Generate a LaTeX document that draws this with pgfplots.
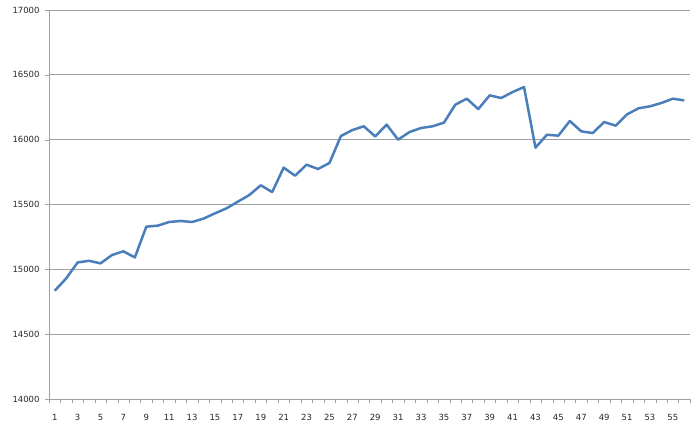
\documentclass[border=0pt]{standalone}
\usepackage{fontspec}
\setmainfont{DejaVu Sans}
\usepackage{pgfplots}
\pgfplotsset{compat=1.18}
\definecolor{lineblue}{RGB}{74,126,187}
\definecolor{gridgray}{RGB}{160,160,160}
\begin{document}
\begin{tikzpicture}
\begin{axis}[
  scale only axis,
  width=641bp, height=389bp,
  xmin=0.5, xmax=56.5,
  ymin=14000, ymax=17000,
  ytick={14000,14500,...,17000},
  xtick={1,3,...,55},
  minor xtick={0.5,1.5,...,56.5},
  scaled y ticks=false,
  axis x line*=bottom, axis y line*=left,
  axis line style={-, draw=gridgray},
  ymajorgrids, grid style={draw=gridgray, line width=0.7pt},
  tick align=outside,
  major x tick style={draw=none},
  minor x tick style={draw=gridgray},
  major y tick style={draw=gridgray},
  major tick length=4bp, minor tick length=4bp,
  tick label style={font=\fontsize{8.5}{10}\selectfont, text=black!85},
  /pgf/number format/assume math mode=true,
  yticklabel style={/pgf/number format/fixed, /pgf/number format/precision=0, /pgf/number format/set thousands separator={}, xshift=-2bp},
  xticklabel style={yshift=-8bp},
]
\addplot[lineblue, line width=2.5bp, line join=round] coordinates {
(1,14835) (2,14930) (3,15053) (4,15066) (5,15046) (6,15110) (7,15139) (8,15092)
(9,15329) (10,15337) (11,15365) (12,15373) (13,15365) (14,15391) (15,15432) (16,15470)
(17,15522) (18,15573) (19,15648) (20,15596) (21,15784) (22,15722) (23,15807) (24,15774)
(25,15820) (26,16028) (27,16074) (28,16103) (29,16025) (30,16116) (31,16000) (32,16059)
(33,16090) (34,16103) (35,16131) (36,16270) (37,16316) (38,16236) (39,16342) (40,16321)
(41,16367) (42,16406) (43,15938) (44,16038) (45,16031) (46,16144) (47,16064) (48,16051)
(49,16136) (50,16108) (51,16195) (52,16242) (53,16257) (54,16283) (55,16316) (56,16303)
};
\end{axis}
\path (current axis.south west) ++(-49bp,-31bp) coordinate (bl);
\path (current axis.north east) ++(10bp,10bp) coordinate (tr);
\path (bl) rectangle (tr);
\end{tikzpicture}
\end{document}
